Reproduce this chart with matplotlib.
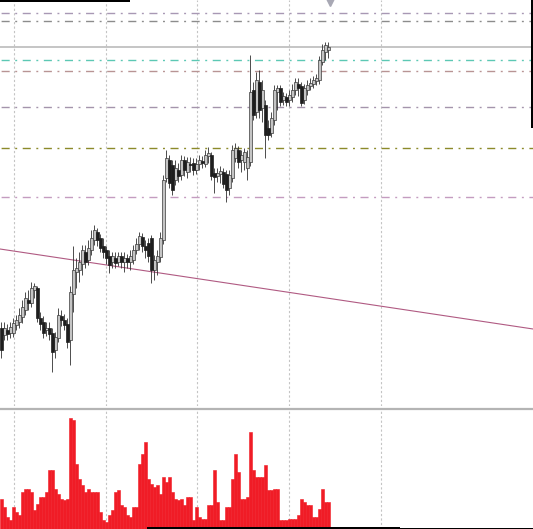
import matplotlib
matplotlib.use("Agg")
import matplotlib.pyplot as plt
from matplotlib.patches import Rectangle
import numpy as np

# ---- OHLC candles (price in points) ----
opens = [72, 65, 70, 67, 67, 75, 78, 83, 90, 100, 97, 110, 112, 82, 78, 70, 72, 67, 50, 62,
         84, 80, 76, 60, 106, 128, 130, 136, 148, 140, 150, 160, 168, 162, 154, 150, 144, 138, 142, 138,
         144, 138, 142, 138, 140, 150, 156, 163, 154, 157, 162, 130, 138, 143, 160, 222, 240, 235, 220, 230,
         225, 240, 228, 236, 237, 230, 236, 239, 236, 244, 245, 227, 224, 226, 228, 226, 212, 222, 242, 250,
         240, 238, 232, 238, 310, 288, 318, 292, 295, 272, 267, 280, 308, 312, 300, 303, 300, 303, 310, 316,
         314, 300, 310, 314, 316, 319, 320, 338, 348, 350]
closes = [50, 72, 66, 73, 77, 80, 85, 93, 102, 97, 112, 114, 82, 76, 67, 72, 66, 48, 63, 85,
          80, 75, 58, 108, 130, 132, 138, 150, 138, 152, 162, 170, 160, 152, 148, 142, 135, 144, 137, 144,
          138, 142, 138, 144, 150, 156, 164, 154, 150, 144, 130, 140, 144, 162, 220, 242, 217, 210, 232, 224,
          240, 230, 238, 235, 230, 236, 240, 237, 245, 247, 224, 223, 227, 229, 216, 210, 225, 250, 252, 238,
          245, 248, 243, 308, 285, 320, 290, 310, 265, 265, 282, 310, 312, 298, 304, 298, 305, 310, 318, 312,
          297, 312, 315, 317, 320, 322, 340, 350, 355, 353]
highs = [78, 78, 76, 78, 82, 85, 92, 100, 108, 110, 118, 117, 114, 88, 84, 78, 78, 72, 68, 92,
         90, 86, 82, 114, 154, 142, 148, 155, 155, 160, 170, 175, 172, 166, 162, 154, 150, 148, 148, 148,
         148, 148, 146, 150, 155, 162, 168, 167, 160, 162, 165, 145, 150, 168, 225, 250, 245, 240, 240, 237,
         245, 244, 243, 243, 242, 242, 245, 244, 250, 253, 248, 232, 232, 234, 232, 230, 230, 255, 257, 254,
         250, 252, 250, 345, 318, 328, 330, 320, 300, 280, 288, 315, 315, 315, 308, 307, 310, 316, 322, 322,
         318, 316, 320, 322, 324, 326, 344, 356, 358, 358]
lows = [42, 60, 60, 62, 63, 70, 72, 77, 85, 90, 93, 102, 78, 70, 62, 64, 60, 28, 42, 58,
        74, 70, 52, 35, 88, 112, 118, 125, 132, 135, 145, 155, 154, 148, 142, 136, 127, 132, 132, 134,
        132, 128, 132, 130, 136, 146, 150, 148, 142, 138, 117, 120, 125, 138, 156, 218, 212, 205, 215, 218,
        220, 224, 222, 228, 225, 226, 230, 232, 233, 237, 220, 207, 218, 217, 212, 198, 205, 218, 238, 232,
        228, 230, 220, 234, 280, 282, 282, 278, 242, 260, 263, 275, 290, 294, 295, 294, 294, 298, 305, 304,
        294, 296, 305, 310, 312, 315, 316, 335, 340, 342]

# ---- tick volume per candle ----
volumes = [300, 220, 120, 90, 220, 170, 140, 370, 400, 400, 370, 190, 250, 320, 320, 370, 590, 590, 400, 350,
           300, 290, 300, 1110, 1090, 650, 500, 440, 370, 400, 370, 370, 370, 170, 90, 70, 140, 190, 370, 390,
           240, 220, 140, 120, 220, 220, 650, 750, 870, 500, 450, 420, 440, 350, 520, 470, 520, 370, 300, 290,
           300, 240, 320, 320, 90, 220, 120, 100, 100, 240, 240, 590, 270, 90, 90, 220, 220, 500, 750, 570,
           300, 300, 320, 970, 590, 520, 520, 520, 640, 390, 390, 400, 400, 90, 90, 90, 100, 100, 100, 140,
           300, 270, 240, 240, 120, 120, 200, 400, 270, 270]

# ---- chart objects ----
level_prices = [387.3, 379.3, 340.0, 329.3, 293.3, 251.7, 202.7]
level_colors = ["#a898b4", "#8c8c8c", "#5cc8b4", "#b89494", "#a494ac", "#8c8a2a", "#c49cc0"]
bid_price = 352.7
trend_start = (-0.5, 151.0)
trend_end = (177.2, 71.0)
grid_positions = [4.2, 34.7, 65.2, 95.8, 126.5]
arrow_point = (109.5, 398.0)

n = len(opens)
idx = np.arange(n)
o = np.array(opens, float)
c = np.array(closes, float)
h = np.array(highs, float)
l = np.array(lows, float)

W, H = 533, 529
fig = plt.figure(figsize=(W / 100, H / 100), dpi=100)
fig.patch.set_facecolor("white")

ax = fig.add_axes([0, 123 / H, 1, 406 / H])
axv = fig.add_axes([0, 0, 1, 120 / H])

xlim = (-0.5, 177.17)
for a in (ax, axv):
    a.set_xlim(*xlim)
    a.set_xticks([])
    a.set_yticks([])
    for s in a.spines.values():
        s.set_visible(False)
    for gx in grid_positions:
        a.axvline(gx, color="#c4c4c4", lw=0.8, ls=(0, (2, 2)), zorder=0)

ax.set_ylim(-6, 400)

# level lines
dashdot = (14.4, (5.8, 4.0, 1.4, 4.0))
for lv, col in zip(level_prices, level_colors):
    ax.axhline(lv, color=col, lw=1.0, ls=dashdot, zorder=1)
ax.axhline(bid_price, color="#c0c0c0", lw=1.3, zorder=1)

# trend line
ax.plot([trend_start[0], trend_end[0]], [trend_start[1], trend_end[1]],
        color="#b05a82", lw=0.8, zorder=1)

# candles
ax.vlines(idx, l, h, color="#303030", lw=0.6, zorder=2)
up = c >= o
body_lo = np.minimum(o, c)
body_h = np.maximum(np.abs(c - o), 1.0)
ax.bar(idx[up], body_h[up], bottom=body_lo[up], width=0.72,
       color="#c4c4c4", edgecolor="#3a3a3a", linewidth=0.5, zorder=3)
ax.bar(idx[~up], body_h[~up], bottom=body_lo[~up], width=0.72,
       color="#1e1e1e", edgecolor="#1e1e1e", linewidth=0.5, zorder=3)

# arrow object at the top
ax.plot([arrow_point[0]], [arrow_point[1]], marker="v", ms=6, color="#a8a8b4",
        clip_on=False, zorder=4)

# volume panel
axv.set_ylim(0, 1200)
axv.bar(idx, volumes, width=1.0, color="#f01c26", edgecolor="#f01c26",
        linewidth=0.4, zorder=2)
axv.spines["top"].set_visible(True)
axv.spines["top"].set_color("#b4b4b4")
axv.spines["top"].set_linewidth(1.6)

# window frame edges
fig.add_artist(Rectangle((0, 1 - 1.5 / H), 130 / W, 1.5 / H, transform=fig.transFigure,
                         color="black", lw=0))
fig.add_artist(Rectangle((531 / W, 1 - 128 / H), 2 / W, 128 / H, transform=fig.transFigure,
                         color="black", lw=0))
fig.add_artist(Rectangle((147 / W, 0), 253 / W, 2 / H, transform=fig.transFigure,
                         color="black", lw=0))
fig.add_artist(Rectangle((400 / W, 0), 133 / W, 1 / H, transform=fig.transFigure,
                         color="black", lw=0))

fig.savefig("out.png", dpi=100, facecolor="white")
